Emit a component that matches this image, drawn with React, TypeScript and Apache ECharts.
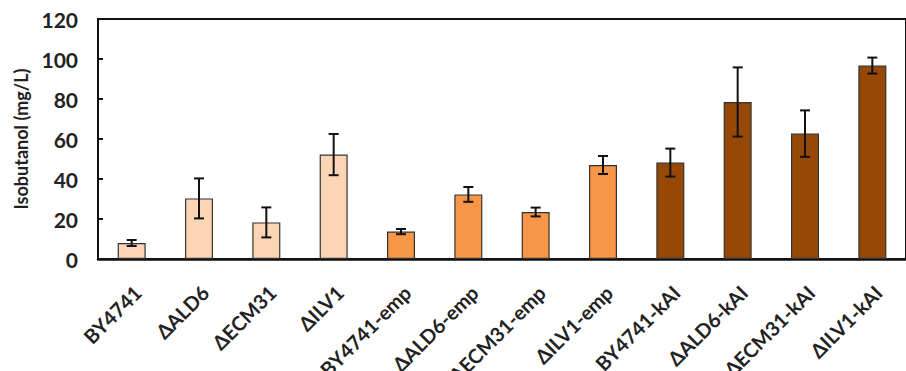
import React, { useEffect, useRef } from "react";
import * as echarts from "echarts";

const categories = [
  "BY4741", "ΔALD6", "ΔECM31", "ΔILV1",
  "BY4741-emp", "ΔALD6-emp", "ΔECM31-emp", "ΔILV1-emp",
  "BY4741-kAI", "ΔALD6-kAI", "ΔECM31-kAI", "ΔILV1-kAI",
];
const values = [8, 30.3, 18.3, 52.2, 13.7, 32.3, 23.5, 47, 48.2, 78.5, 62.7, 96.7];
const errors = [1.5, 10, 7.5, 10.3, 1.3, 3.7, 2.2, 4.5, 7, 17.3, 11.6, 4];
const groupColors = ["#FCD5B4", "#F79646", "#974806"];
const yTicks = [0, 20, 40, 60, 80, 100, 120];

export default function App() {
  const ref = useRef<HTMLDivElement>(null);
  useEffect(() => {
    if (!ref.current) return;
    const chart = echarts.init(ref.current, null, { renderer: "svg" });
    const font = "Lato";
    chart.setOption({
      animation: false,
      grid: {
        left: 98, top: 19, right: -8, bottom: 112,
        show: true, borderColor: "#111", borderWidth: 2, backgroundColor: "transparent",
      },
      xAxis: {
        type: "category",
        data: categories,
        axisLine: { lineStyle: { color: "#111", width: 2.5 } },
        axisTick: { inside: true, length: 5, lineStyle: { color: "#111", width: 2 } },
        axisLabel: { show: false },
      },
      yAxis: {
        type: "value",
        min: yTicks[0], max: yTicks[yTicks.length - 1], interval: 20,
        name: "Isobutanol (mg/L)",
        nameLocation: "middle",
        nameGap: 68,
        nameTextStyle: { fontFamily: font, fontWeight: "bold", fontSize: 18, color: "#222" },
        axisLine: { show: true, lineStyle: { color: "#111", width: 2 } },
        axisTick: { show: true, inside: true, length: 5, lineStyle: { color: "#111", width: 2 } },
        splitLine: { show: false },
        axisLabel: { margin: 20, fontFamily: font, fontWeight: "bold", fontSize: 21, color: "#222" },
      },
      series: [
        {
          type: "bar",
          data: values.map((v, i) => ({
            value: v,
            itemStyle: { color: groupColors[Math.floor(i / 4)] },
          })),
          barWidth: 28,
          itemStyle: { borderColor: "#333", borderWidth: 1.2 },
          z: 2,
        },
        {
          type: "custom",
          data: values.map((v, i) => [i, v - errors[i], v + errors[i]]),
          z: 3,
          renderItem: (params: any, api: any) => {
            const i = api.value(0);
            const lo = api.coord([i, api.value(1)]);
            const hi = api.coord([i, api.value(2)]);
            const hw = 5;
            const style = { stroke: "#111", lineWidth: 2 };
            return {
              type: "group",
              children: [
                { type: "line", shape: { x1: lo[0], y1: lo[1], x2: hi[0], y2: hi[1] }, style },
                { type: "line", shape: { x1: hi[0] - hw, y1: hi[1], x2: hi[0] + hw, y2: hi[1] }, style },
                { type: "line", shape: { x1: lo[0] - hw, y1: lo[1], x2: lo[0] + hw, y2: lo[1] }, style },
              ],
            };
          },
        },
      ],
    });
    const baseY = chart.convertToPixel({ yAxisIndex: 0 }, 0) as number;
    const labels = categories.map((c) => {
      const cx = chart.convertToPixel({ xAxisIndex: 0 }, c) as number;
      return {
        type: "text",
        x: cx + 6,
        y: baseY + 30,
        rotation: Math.PI / 4,
        silent: true,
        style: {
          text: c,
          align: "right",
          verticalAlign: "middle",
          font: "bold 20px Lato",
          fill: "#222",
        },
      };
    });
    chart.setOption({ graphic: labels });
    return () => chart.dispose();
  }, []);
  return (
    <div style={{ position: "absolute", left: 0, top: 0, width: 906, height: 371, overflow: "hidden", background: "#fff" }}>
      <div ref={ref} style={{ width: 906, height: 371 }} />
    </div>
  );
}
